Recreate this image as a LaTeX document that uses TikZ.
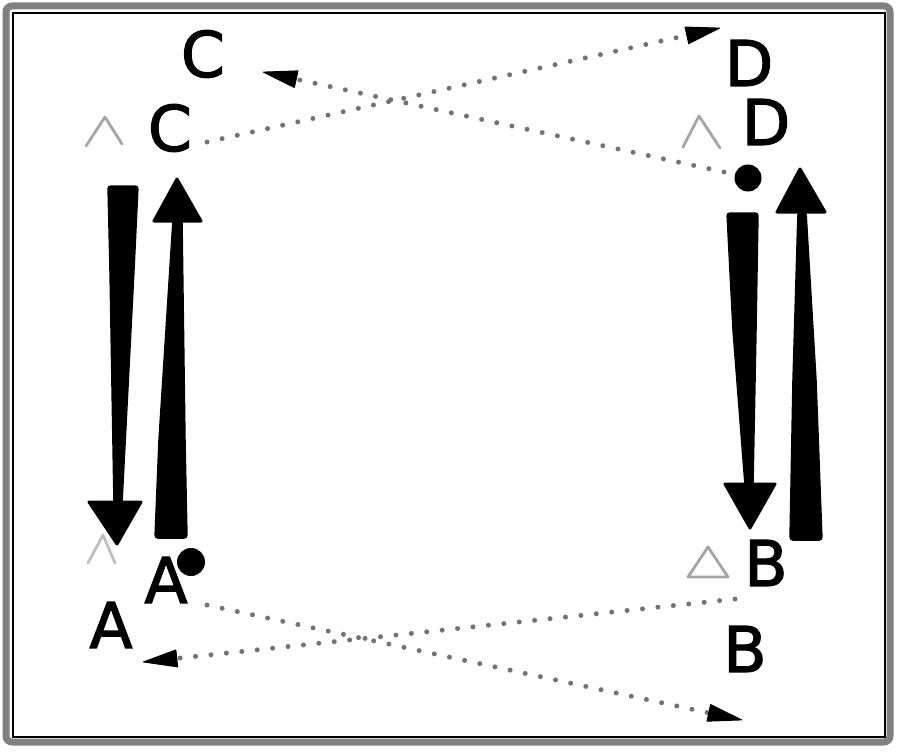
\documentclass[tikz,border=0pt]{standalone}
\usepackage{fontspec}
\setmainfont{DejaVu Sans}
\newfontface\labfont{DejaVu Sans}[FakeBold=2]
\usetikzlibrary{arrows.meta}
\begin{document}
\begin{tikzpicture}[x=1pt,y=-1pt,
  lab/.style={font=\fontsize{63}{63}\labfont, inner sep=0pt, anchor=center},
  dotline/.style={draw=black!55, line width=5pt, line cap=round, dash pattern=on 0pt off 15.5pt},
  tipped/.style={-{Triangle[length=36pt,width=18pt,color=black,line width=1pt,round]}},
  shaft/.style={fill=black, draw=black, line width=1.5pt, rounded corners=3pt},
  headtri/.style={fill=black, draw=black, line width=3pt, line join=round},
  caret/.style={draw=black!35, line width=2.8pt, line cap=round, line join=round},
  spot/.style={circle, fill=black, minimum size=28pt, inner sep=0pt}]
\useasboundingbox (0,0) rectangle (900,752);
% frame
\draw[black!50, line width=7pt, rounded corners=6pt] (6,6) rectangle (890,742);
\draw[black, line width=1.2pt] (13,13) rectangle (885,737);

% labels
\node[lab] (c1) at (203,54) {C};
\node[lab] (c2) at (170,128) {C};
\node[lab] (d1) at (749,63) {D};
\node[lab] (d2) at (766,122) {D};
\node[lab] (a1) at (166,580) {A};
\node[lab] (a2) at (111,625) {A};
\node[lab] (b1) at (766,563) {B};
\node[lab] (b2) at (745,649) {B};

% dots
\node[spot] (dA) at (191,562) {};
\node[spot, minimum size=27pt] (dD) at (748,178) {};

% faint carets
\draw[caret] (86,146) -- (105,117) -- (122,144);
\draw[caret] (683,147) -- (699,116) -- (720,148);
\draw[caret, draw=black!25] (88,563) -- (103,535) -- (115,563);
\draw[caret] (688,577) -- (708,547) -- (728,577) -- cycle;

% dotted connectors
\coordinate (s1) at (207,142); \coordinate (e1) at (720,28);
\coordinate (s2) at (724,172); \coordinate (e2) at (263,72);
\coordinate (s3) at (207,605); \coordinate (e3) at (742,720);
\coordinate (s4) at (735,599); \coordinate (e4) at (143,662);
\draw[dotline, tipped] (s1) -- (e1);
\draw[dotline, tipped] (s2) -- (e2);
\draw[dotline, tipped] (s3) -- (e3);
\draw[dotline, tipped] (s4) -- (e4);

% thick tapered arrows
% left, downward
\filldraw[shaft] (108,186) -- (138,186) -- (134,270) -- (122,503) -- (114,503) -- (110,270) -- cycle;
\filldraw[headtri] (89,502) -- (141,502) -- (117,544) -- cycle;
% left, upward
\filldraw[shaft] (155,538) -- (187,538) -- (185,440) -- (182,220) -- (173,220) -- (159,440) -- cycle;
\filldraw[headtri] (154,221) -- (201,221) -- (177,179) -- cycle;
% right, downward
\filldraw[shaft] (727,213) -- (758,213) -- (756,330) -- (753,485) -- (745,485) -- (733,330) -- cycle;
\filldraw[headtri] (725,484) -- (775,484) -- (750,528) -- cycle;
% right, upward
\filldraw[shaft] (790,540) -- (822,540) -- (816,380) -- (806,212) -- (798,212) -- (793,380) -- cycle;
\filldraw[headtri] (777,212) -- (825,212) -- (800,169) -- cycle;
\end{tikzpicture}
\end{document}
